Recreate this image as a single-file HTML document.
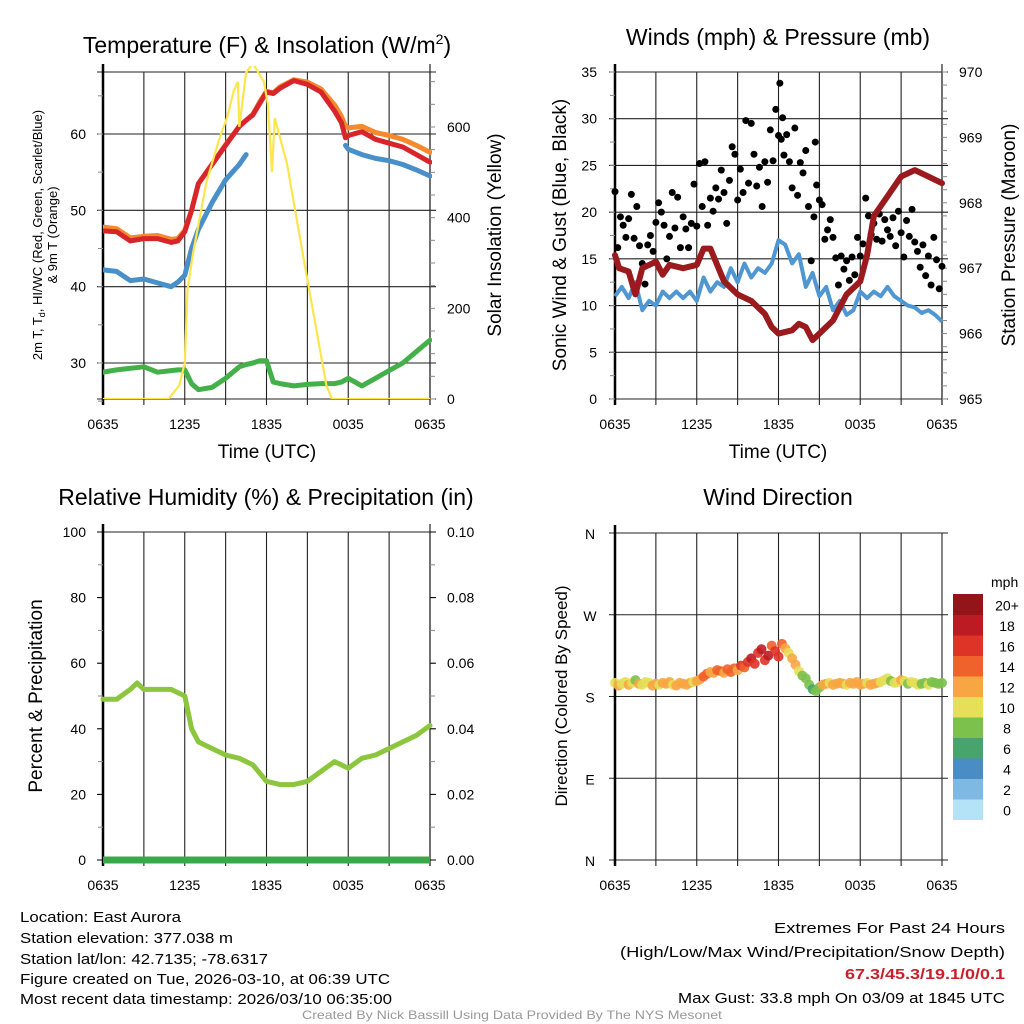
<!DOCTYPE html>
<html><head><meta charset="utf-8"><style>
html,body{margin:0;padding:0;background:#fff}
svg{display:block;font-family:"Liberation Sans",sans-serif}
</style></head><body>
<svg id="s" width="1024" height="1024" viewBox="0 0 1024 1024" xmlns="http://www.w3.org/2000/svg">
<rect width="1024" height="1024" fill="#fff"/>
<g id="g"></g>
<text x="267" y="53" font-size="23" text-anchor="middle">Temperature (F) &amp; Insolation (W/m<tspan font-size="14" dy="-9">2</tspan><tspan dy="9">)</tspan></text>
<text x="778" y="45" font-size="23" text-anchor="middle">Winds (mph) &amp; Pressure (mb)</text>
<text x="266" y="505" font-size="23" text-anchor="middle">Relative Humidity (%) &amp; Precipitation (in)</text>
<text x="778" y="505" font-size="23" text-anchor="middle">Wind Direction</text>
<text x="267" y="458" font-size="19" text-anchor="middle">Time (UTC)</text>
<text x="778" y="458" font-size="19" text-anchor="middle">Time (UTC)</text>
<text transform="translate(42,235) rotate(-90)" font-size="13" text-anchor="middle">2m T, T<tspan font-size="9" dy="3">d</tspan><tspan dy="-3">, HI/WC (Red, Green, Scarlet/Blue)</tspan></text>
<text transform="translate(57,235) rotate(-90)" font-size="13" text-anchor="middle">&amp; 9m T (Orange)</text>
<text transform="translate(501,235) rotate(-90)" font-size="19" text-anchor="middle">Solar Insolation (Yellow)</text>
<text transform="translate(566,235) rotate(-90)" font-size="19" text-anchor="middle">Sonic Wind &amp; Gust (Blue, Black)</text>
<text transform="translate(1015,235) rotate(-90)" font-size="19" text-anchor="middle">Station Pressure (Maroon)</text>
<text transform="translate(42,696) rotate(-90)" font-size="19" text-anchor="middle">Percent &amp; Precipitation</text>
<text transform="translate(567,696) rotate(-90)" font-size="17" text-anchor="middle">Direction (Colored By Speed)</text>
<text x="991" y="587" font-size="14">mph</text>
<g font-size="15">
<text x="20" y="922" textLength="161" lengthAdjust="spacingAndGlyphs">Location: East Aurora</text>
<text x="20" y="943" textLength="213" lengthAdjust="spacingAndGlyphs">Station elevation: 377.038 m</text>
<text x="20" y="964" textLength="248" lengthAdjust="spacingAndGlyphs">Station lat/lon: 42.7135; -78.6317</text>
<text x="20" y="984" textLength="370" lengthAdjust="spacingAndGlyphs">Figure created on Tue, 2026-03-10, at 06:39 UTC</text>
<text x="20" y="1004" textLength="372" lengthAdjust="spacingAndGlyphs">Most recent data timestamp: 2026/03/10 06:35:00</text>
<text x="1005" y="933" text-anchor="end" textLength="231" lengthAdjust="spacingAndGlyphs">Extremes For Past 24 Hours</text>
<text x="1005" y="957" text-anchor="end" textLength="385" lengthAdjust="spacingAndGlyphs">(High/Low/Max Wind/Precipitation/Snow Depth)</text>
<text x="1005" y="979" text-anchor="end" fill="#c8202a" font-weight="bold" textLength="160" lengthAdjust="spacingAndGlyphs">67.3/45.3/19.1/0/0.1</text>
<text x="1005" y="1003" text-anchor="end" textLength="327" lengthAdjust="spacingAndGlyphs">Max Gust: 33.8 mph On 03/09 at 1845 UTC</text>
</g>
<text x="512" y="1019" font-size="12" fill="#999" text-anchor="middle" textLength="420" lengthAdjust="spacingAndGlyphs">Created By Nick Bassill Using Data Provided By The NYS Mesonet</text>
</svg>
<script>
const xTickLabels=["0635","1235","1835","0035","0635"];
const tT=[0,1,2,3,4,5,5.5,6,6.5,7,8,9,10,10.5,11,11.5,12,12.5,13,14,15,16,17,17.5,17.8,18,19,20,21,22,23,24];
const tempRed=[47.3,47.2,46.0,46.3,46.3,45.8,46.0,47.2,50,53.5,56,58.5,61,61.8,62.5,64,65.5,65.3,66,67,66.5,65.5,63,61.5,59.5,59.8,60.3,59.3,58.8,58.3,57.3,56.3];
const temp9m=[47.8,47.6,46.4,46.6,46.7,46.2,46.3,47.4,50,53.5,56,58.6,61,61.8,62.6,64.2,65.6,65.4,66.2,67.1,66.8,65.9,63.8,62.3,61,60.8,61,60.2,59.8,59.3,58.5,57.6];
const tempHIWC=[42.2,42,40.8,41,40.5,40,40.6,41.5,45,47.5,51,54,56,57.3,null,null,null,null,null,null,null,null,null,null,58.5,58,57.3,56.8,56.5,56,55.3,54.5];
const dewpt=[28.8,29.1,29.3,29.5,28.8,29,29.1,29.1,27.3,26.5,26.8,28,29.5,29.8,30,30.3,30.3,27.5,27.3,27,27.2,27.3,27.3,27.5,27.8,28,27,28,29,30,31.5,33];
const solT=[0,4.8,5.6,6.0,6.2,6.6,7.6,8.6,9.1,9.6,9.9,10.0,10.5,11,11.8,12.1,12.4,12.6,13.5,14.9,16.4,16.8,24];
const solV=[0,0,30,80,240,320,480,580,620,680,700,600,720,740,700,650,500,620,520,280,30,0,0];
const tempTicks=[30,40,50,60];
const solTicks=[0,200,400,600];
const windT=[0,0.5,1,1.5,2,2.5,3,3.5,4,4.5,5,5.5,6,6.5,7,7.5,8,8.5,9,9.5,10,10.5,11,11.5,12,12.5,13,13.5,14,14.5,15,15.5,16,16.5,17,17.5,18,18.5,19,19.5,20,20.5,21,21.5,22,22.5,23,23.5,24];
const windV=[11,12,10.8,12.5,9.5,10.5,10,11.5,10.8,11.5,10.8,11.5,10.5,13,11.5,12.5,12,14,12.5,14.5,13,14,13.5,14.5,17,16.5,14.5,15.5,12,13.5,11,12,9.5,10.5,9,9.5,11.5,10.8,11.5,11,12,11,10.5,10,9.8,9.2,9.5,9,8.3];
const gustT=[0,0.2,0.4,0.6,0.8,1,1.2,1.4,1.6,1.8,2,2.2,2.4,2.6,2.8,3,3.2,3.4,3.6,3.8,4,4.2,4.4,4.6,4.8,5,5.2,5.4,5.6,5.8,6,6.2,6.4,6.6,6.8,7,7.2,7.4,7.6,7.8,8,8.2,8.4,8.6,8.8,9,9.2,9.4,9.6,9.8,10,10.2,10.4,10.6,10.8,11,11.2,11.4,11.6,11.8,12,12.1,12.2,12.3,12.4,12.6,12.8,13,13.2,13.4,13.6,13.8,14,14.2,14.4,14.6,14.7,14.8,15,15.2,15.4,15.6,15.8,16,16.2,16.4,16.6,16.8,17,17.2,17.4,17.6,17.8,18,18.2,18.4,18.6,18.8,19,19.2,19.4,19.6,19.8,20,20.2,20.4,20.6,20.8,21,21.2,21.4,21.6,21.8,22,22.2,22.4,22.6,22.8,23,23.2,23.4,23.6,23.8,24];
const gustV=[22.2,16.2,19.5,18.6,17.3,19.3,21.9,17.2,20.6,16.4,14.5,12.3,16.5,17.5,15.8,18.9,21,20,18.6,15,17.4,22.1,18.3,21.6,16.2,19.5,18.2,16.2,18.8,23,18.5,25.2,20.6,25.4,18.6,21.5,20.1,22.6,21.4,24.5,22.1,18.8,23.4,27,26.2,21.3,24.6,22.1,29.8,23.1,29.5,26.2,22.8,24.8,20.6,25.4,23.2,28.8,25.5,31,28.2,33.8,27.8,30.1,26.1,28.3,25.4,22.6,29,21.8,25.3,24.2,26.6,20.6,14.8,19.5,27.5,22.9,21.3,20.8,17.1,18.1,19.2,17.3,15.1,12.2,15.3,13.9,14.8,12.7,15.2,13.3,17.3,15.3,16.6,21.5,19.6,17.6,18.8,17.1,19.8,16.9,19.2,18.1,17.4,19.4,16.4,20.1,17.8,15.2,19.1,17.4,20.3,16.8,15.8,14.1,16.5,13.2,15.3,12.2,17.3,14.9,11.8,14.2];
const presT=[0,0.3,1,1.5,2,3,3.5,4,5,6,6.5,7,8,9,10,11,11.5,12,13,13.5,14,14.5,15,16,17,18,18.5,19,20,21,22,23,24];
const presV=[967.2,967.0,966.95,966.6,967.0,967.1,966.9,967.05,967.0,967.05,967.3,967.3,966.8,966.6,966.5,966.3,966.1,966.0,966.05,966.15,966.1,965.9,966.0,966.2,966.6,966.8,967.2,967.8,968.1,968.4,968.5,968.4,968.3];
const windTicks=[0,5,10,15,20,25,30,35];
const presTicks=[965,966,967,968,969,970];
const rhT=[0,1,2,2.5,3,4,5,6,6.5,7,8,9,10,11,12,13,14,15,16,17,18,19,20,21,22,23,24];
const rhV=[49,49,52,54,52,52,52,50,40,36,34,32,31,29,24,23,23,24,27,30,28,31,32,34,36,38,41];
const precipT=[0,24];
const precipV=[0,0];
const rhTicks=[0,20,40,60,80,100];
const precipTicks=["0.00","0.02","0.04","0.06","0.08","0.10"];
const dirLabels=["N","E","S","W","N"];
const dirV=[195,192,194,196,193,195,198,194,193,196,195,192,194,193,195,194,196,193,192,195,194,193,195,196,197,199,202,205,207,206,209,208,206,210,207,211,209,214,212,218,222,216,228,232,220,225,236,230,224,238,233,228,222,215,208,203,200,193,188,186,190,193,194,195,193,194,195,194,193,195,194,196,193,194,195,193,194,195,196,198,200,197,195,196,198,197,194,196,195,193,194,195,193,196,195,194,195];
const dirSpd=[11,12,11,10,12,11,8,12,11,10,11,12,12,11,13,12,12,11,12,12,13,12,12,11,12,13,14,14,13,12,14,15,13,14,15,14,13,16,15,17,18,16,17,19,16,18,15,17,16,14,12,11,13,12,10,9,8,8,7,8,9,12,12,11,12,13,12,12,11,12,12,13,12,12,11,12,12,12,10,11,10,9,10,11,12,10,9,10,11,10,9,8,10,9,8,8,8];
const cbLabels=["0","2","4","6","8","10","12","14","16","18","20+"];
const cbColors=["#b4e2f6","#7db9e3","#4a8cc4","#47a46d","#7bc14b","#e6df57","#f7a643","#f0622b","#dd3427","#bd1b24","#941519"];

const NS="http://www.w3.org/2000/svg";
const G=document.getElementById('g');
function mk(tag,attrs,parent){const e=document.createElementNS(NS,tag);for(const k in attrs)e.setAttribute(k,attrs[k]);(parent||G).appendChild(e);return e;}
function lin(d0,d1,r0,r1){return v=>r0+(v-d0)*(r1-r0)/(d1-d0);}
function pathFrom(ts,vs,sx,sy){let d="",pen=false;for(let i=0;i<ts.length;i++){if(vs[i]===null||vs[i]===undefined){pen=false;continue;}d+=(pen?"L":"M")+sx(ts[i]).toFixed(1)+","+sy(vs[i]).toFixed(1);pen=true;}return d;}

function frame(L,R,T,B,name,hgrid){
  const sx=lin(0,24,L,R);
  const grp=mk('g',{});
  
  
  for(let h=0;h<=24;h+=3){const x=sx(h);mk('line',{x1:x,x2:x,y1:T,y2:B+6,stroke:'#222','stroke-width':1.1},grp);}
  hgrid.forEach(y=>mk('line',{x1:L-6,x2:R+6,y1:y,y2:y,stroke:'#222','stroke-width':1.1},grp));
  mk('line',{x1:L,x2:L,y1:T-8,y2:B+6,stroke:'#000','stroke-width':2.5},grp);
  xTickLabels.forEach((lab,i)=>{const t=mk('text',{x:sx(i*6),y:B+30,'font-size':14,'text-anchor':'middle'});t.textContent=lab;});
  return sx;
}
function minor(x,y0,y1,step,dir,par){for(let y=y0;y<=y1+0.01;y+=step)mk('line',{x1:x,x2:x+dir*5,y1:y,y2:y,stroke:'#888','stroke-width':1},par);}

// ---- Panel 1: temperature ----
(function(){
  const L=103,R=430,T=72,B=399;
  const sy=lin(30,60,363,134), sy2=lin(0,600,399,127);
  const hg=tempTicks.map(sy).concat([T]);
  const sx=frame(L,R,T,B,'temp-panel',hg);
  mk('line',{x1:R,x2:R,y1:T-8,y2:B+6,stroke:'#222','stroke-width':1.2});
  mk('line',{x1:L-6,x2:R+6,y1:B,y2:B,stroke:'#222','stroke-width':1});
  minor(L,sy(65),sy(25),sy(30)-sy(35),-1,G);
  minor(R,sy2(700),sy2(0),sy2(0)-sy2(50),1,G);
  tempTicks.forEach(v=>{const t=mk('text',{x:86,y:sy(v)+5,'font-size':14,'text-anchor':'end'});t.textContent=v;});
  solTicks.forEach(v=>{const t=mk('text',{x:447,y:sy2(v)+5,'font-size':14});t.textContent=v;});
  const clip=mk('clipPath',{id:'c1'});mk('rect',{x:L,y:T-6,width:R-L+2,height:B-T+6},clip);
  const series=[[dewpt,'#44b049','dewpoint-line'],[temp9m,'#f5892c','temp-9m-line'],[tempRed,'#d8252b','temp-2m-line'],[tempHIWC,'#4a90c8','heat-index-windchill-line']];
  series.forEach(s=>{const p=mk('path',{d:pathFrom(tT,s[0],sx,sy),fill:'none',stroke:s[1],'stroke-width':5,'stroke-linejoin':'round','stroke-linecap':'round','clip-path':'url(#c1)'});});
  const p=mk('path',{d:pathFrom(solT,solV,sx,sy2),fill:'none',stroke:'#fde64d','stroke-width':2.2,'clip-path':'url(#c1)'});
  
})();

// ---- Panel 2: winds ----
(function(){
  const L=615,R=942,T=72,B=399;
  const sy=lin(0,35,399,72), sy2=lin(965,970,399,72);
  const sx=frame(L,R,T,B,'wind-panel',windTicks.map(sy));
  mk('line',{x1:R,x2:R,y1:T-8,y2:B+6,stroke:'#222','stroke-width':1.2});
  minor(L,sy(35),sy(0),sy(0)-sy(2.5),-1,G);
  minor(R,sy2(970),sy2(965),sy2(965)-sy2(965.2),1,G);
  windTicks.forEach(v=>{const t=mk('text',{x:597,y:sy(v)+5,'font-size':14,'text-anchor':'end'});t.textContent=v;});
  presTicks.forEach(v=>{const t=mk('text',{x:959,y:sy2(v)+5,'font-size':14});t.textContent=v;});
  const w=mk('path',{d:pathFrom(windT,windV,sx,sy),fill:'none',stroke:'#4f97d2','stroke-width':4,'stroke-linejoin':'round'});
  
  const gg=mk('g',{fill:'#000'});
  
  gustT.forEach((t,i)=>{const c=mk('circle',{cx:sx(t),cy:sy(gustV[i]),r:3.5},gg);});
  const p=mk('path',{d:pathFrom(presT,presV,sx,sy2),fill:'none',stroke:'#9a1a1e','stroke-width':6,'stroke-linejoin':'round','stroke-linecap':'round'});
  
})();

// ---- Panel 3: RH ----
(function(){
  const L=103,R=430,T=532,B=860;
  const sy=lin(0,100,860,532);
  const sx=frame(L,R,T,B,'rh-panel',[T]);
  mk('line',{x1:R,x2:R,y1:T-8,y2:B+6,stroke:'#222','stroke-width':1.2});
  minor(L,sy(100),sy(0),sy(0)-sy(10),-1,G);
  minor(R,sy(100),sy(0),sy(0)-sy(10),1,G);
  rhTicks.forEach((v,i)=>{mk('line',{x1:L-6,x2:L,y1:sy(v),y2:sy(v),stroke:'#000'});mk('line',{x1:R,x2:R+6,y1:sy(v),y2:sy(v),stroke:'#000'});
    const t=mk('text',{x:86,y:sy(v)+5,'font-size':14,'text-anchor':'end'});t.textContent=v;
    const t2=mk('text',{x:447,y:sy(v)+5,'font-size':14});t2.textContent=precipTicks[i];});
  const p=mk('path',{d:pathFrom(rhT,rhV,sx,sy),fill:'none',stroke:'#8cc63f','stroke-width':5,'stroke-linejoin':'round','stroke-linecap':'round'});
  
  const sp=lin(0,0.1,860,532);
  const q=mk('path',{d:pathFrom(precipT,precipV,sx,sp),fill:'none',stroke:'#3aa84a','stroke-width':7});
  
})();

// ---- Panel 4: wind direction ----
(function(){
  const L=615,R=942,T=533,B=860;
  const sy=lin(0,360,860,533);
  const sx=frame(L,R,T,B,'dir-panel',[0,90,180,270,360].map(sy));
  dirLabels.forEach((lab,i)=>{const t=mk('text',{x:590,y:sy(i*90)+6,'font-size':14,'text-anchor':'middle'});t.textContent=lab;});
  const gg=mk('g',{});
  
  dirV.forEach((d,i)=>{const idx=Math.min(10,Math.floor(dirSpd[i]/2));const c=mk('circle',{cx:sx(i*0.25),cy:sy(d),r:5,fill:cbColors[idx],opacity:0.9},gg);});
  const bh=20.5;
  cbLabels.forEach((lab,i)=>{const j=10-i;const y=594+j*bh;
    const r=mk('rect',{x:953,y:y,width:30,height:bh+0.5,fill:cbColors[i]});
    const t=mk('text',{x:1007,y:y+bh/2+6,'font-size':14,'text-anchor':'middle'});t.textContent=lab;});
})();
</script>
</body></html>
